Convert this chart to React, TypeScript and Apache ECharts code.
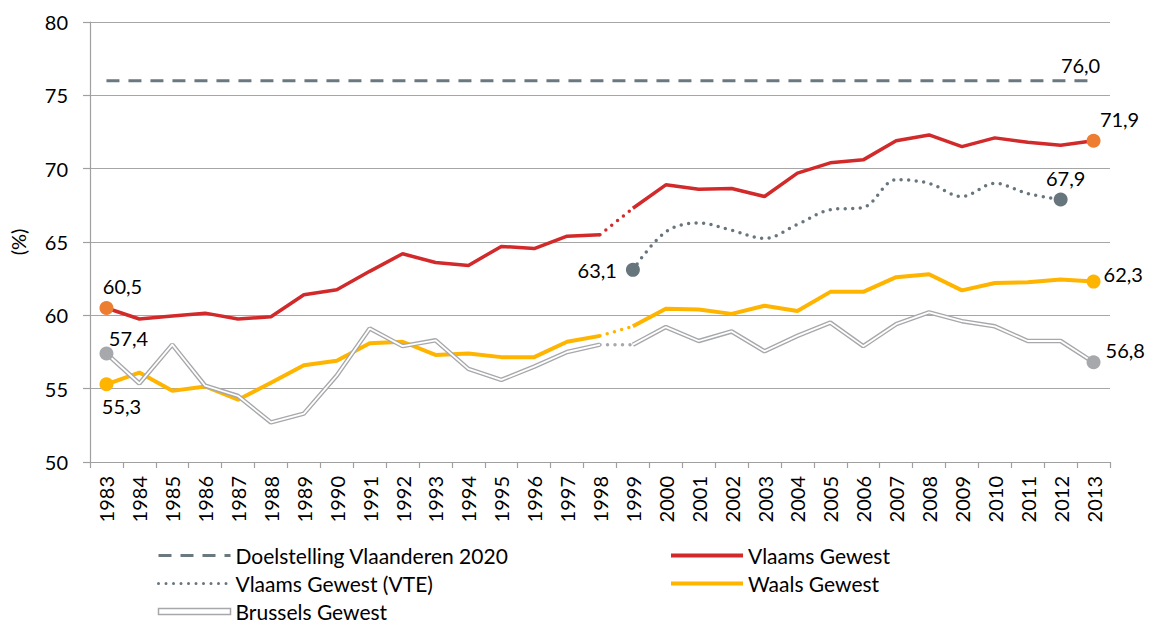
import React, { useEffect, useRef } from "react";
import * as echarts from "echarts";

const years = [
  1983, 1984, 1985, 1986, 1987, 1988, 1989, 1990, 1991, 1992, 1993, 1994, 1995, 1996, 1997, 1998,
  1999, 2000, 2001, 2002, 2003, 2004, 2005, 2006, 2007, 2008, 2009, 2010, 2011, 2012, 2013,
];
const target = years.map(() => 76.0);
const vlaams = [
  60.5, 59.75, 59.95, 60.15, 59.75, 59.9, 61.4, 61.75, 63.0, 64.2, 63.6, 63.4, 64.7, 64.55, 65.4, 65.5,
  67.3, 68.9, 68.6, 68.65, 68.1, 69.7, 70.4, 70.6, 71.9, 72.3, 71.5, 72.1, 71.8, 71.6, 71.9,
];
const vte = [
  null, null, null, null, null, null, null, null, null, null, null, null, null, null, null, null,
  63.1, 65.7, 66.3, 65.8, 65.25, 66.2, 67.2, 67.35, 69.25, 69.0, 68.1, 69.0, 68.3, 67.9, null,
];
const waals = [
  55.3, 56.1, 54.85, 55.15, 54.25, 55.4, 56.6, 56.9, 58.1, 58.2, 57.3, 57.4, 57.15, 57.15, 58.2, 58.6,
  59.25, 60.45, 60.4, 60.1, 60.65, 60.3, 61.6, 61.6, 62.6, 62.8, 61.7, 62.2, 62.25, 62.45, 62.3,
];
const brussels = [
  57.4, 55.35, 58.0, 55.2, 54.5, 52.7, 53.3, 55.9, 59.1, 57.9, 58.3, 56.35, 55.6, 56.5, 57.5, 58.0,
  58.0, 59.2, 58.25, 58.9, 57.55, 58.6, 59.5, 57.9, 59.4, 60.2, 59.6, 59.25, 58.25, 58.25, 56.8,
];

const LAST_OLD = 15; // index of 1998
const FONT = "Lato";

const C_TARGET = "#6A7880";
const C_RED = "#D22A2B";
const C_ORANGE = "#ED7D31";
const C_YELLOW = "#FFB400";
const C_VTE = "#67757D";
const C_BRU = "#A7A8AB";

const fmt = (v: number) => v.toFixed(1).replace(".", ",");

function segA(arr: (number | null)[]) {
  return arr.map((v, i) => (i <= LAST_OLD ? v : null));
}
function segB(arr: (number | null)[]) {
  return arr.map((v, i) => (i >= LAST_OLD + 1 ? v : null));
}
function segDot(arr: (number | null)[]) {
  return arr.map((v, i) => (i === LAST_OLD || i === LAST_OLD + 1 ? v : null));
}

function markItem(v: number, color: string, label: any, size = 14) {
  return {
    value: v,
    symbol: "circle",
    symbolSize: size,
    itemStyle: { color, opacity: 1 },
    label: {
      show: true,
      formatter: () => fmt(v),
      fontFamily: FONT,
      fontSize: 20,
      color: "#000",
      ...label,
    },
  };
}

function withMarks(arr: (number | null)[], marks: { idx: number; color: string; label: any }[]) {
  return arr.map((v, i) => {
    const m = marks.find((mm) => mm.idx === i);
    return m && v !== null ? markItem(v, m.color, m.label) : v;
  });
}

export default function App() {
  const ref = useRef<HTMLDivElement>(null);
  useEffect(() => {
    document.body.style.margin = "0";
    if (!ref.current) return;
    const chart = echarts.init(ref.current, undefined, { renderer: "svg" });

    const dots = (color: string) => ({
      color,
      width: 3.5,
      type: [0, 7.5],
      cap: "round",
    });

    const base = {
      type: "line",
      symbol: "none",
      showSymbol: true,
      connectNulls: false,
      silent: true,
    };

    const vA: any = withMarks(segA(vlaams), [
      { idx: 0, color: C_ORANGE, label: { position: "top", distance: 5, offset: [16, 0] } },
    ]);
    const vB: any = withMarks(segB(vlaams), [
      { idx: 30, color: C_ORANGE, label: { position: "top", distance: 5, offset: [26, 0] } },
    ]);
    const wA: any = withMarks(segA(waals), [
      { idx: 0, color: C_YELLOW, label: { position: "bottom", distance: 5, offset: [15, 0] } },
    ]);
    const wB: any = withMarks(segB(waals), [
      { idx: 30, color: C_YELLOW, label: { position: "right", distance: 3, offset: [0, -8] } },
    ]);
    const bA: any = withMarks(segA(brussels), [
      { idx: 0, color: C_BRU, label: { position: "top", distance: 5, offset: [22, 7] } },
    ]);
    const bB: any = withMarks(segB(brussels), [
      { idx: 30, color: C_BRU, label: { position: "right", distance: 5, offset: [0, -12] } },
    ]);
    const vteD: any = withMarks(vte, [
      { idx: 16, color: C_VTE, label: { position: "left", distance: 9 } },
      { idx: 29, color: C_VTE, label: { position: "top", distance: 4, offset: [5, 0] } },
    ]);

    const targetData: any = target.map((v, i) =>
      i === target.length - 1
        ? {
            value: v,
            symbol: "circle",
            symbolSize: 2,
            itemStyle: { color: "rgba(0,0,0,0)" },
            label: {
              show: true,
              formatter: () => fmt(v),
              position: "top",
              distance: 5,
              offset: [-13, 0],
              fontFamily: FONT,
              fontSize: 20,
              color: "#000",
            },
          }
        : v
    );

    const legendText = { fontFamily: FONT, fontSize: 21, color: "#000" };

    const option: any = {
      animation: false,
      grid: { left: 90, right: 45, top: 22, bottom: 164, containLabel: false },
      legend: [
        {
          orient: "vertical",
          left: 157,
          top: 545,
          height: 160,
          itemWidth: 72,
          itemHeight: 6,
          itemGap: 7,
          padding: 0,
          selectedMode: false,
          textStyle: legendText,
          data: [
            {
              name: "Doelstelling Vlaanderen 2020",
              itemStyle: { opacity: 0 },
              lineStyle: { color: C_TARGET, width: 3, type: [13, 9] },
            },
            {
              name: "Vlaams Gewest (VTE)",
              itemStyle: { opacity: 0 },
              lineStyle: { color: C_VTE, width: 3, type: [0, 7.5], cap: "round" },
            },
            {
              name: "Brussels Gewest",
              icon: "rect",
              itemStyle: { color: "#ffffff", borderColor: C_BRU, borderWidth: 1.5 },
            },
          ],
        },
        {
          orient: "vertical",
          left: 669,
          top: 545,
          height: 160,
          itemWidth: 72,
          itemHeight: 6,
          itemGap: 7,
          padding: 0,
          selectedMode: false,
          textStyle: legendText,
          data: [
            { name: "Vlaams Gewest", itemStyle: { opacity: 0 }, lineStyle: { color: C_RED, width: 4 } },
            { name: "Waals Gewest", itemStyle: { opacity: 0 }, lineStyle: { color: C_YELLOW, width: 4 } },
          ],
        },
      ],
      xAxis: {
        type: "category",
        data: years.map(String),
        boundaryGap: true,
        axisLine: { lineStyle: { color: "#A0A0A0", width: 1.2 } },
        axisTick: { show: true, length: 6, interval: 0, lineStyle: { color: "#A0A0A0", width: 1.2 } },
        axisLabel: { interval: 0, rotate: 90, margin: 14, fontFamily: FONT, fontSize: 20, color: "#000" },
      },
      yAxis: {
        type: "value",
        min: 50,
        max: 80,
        interval: 5,
        name: "(%)",
        nameLocation: "middle",
        nameRotate: 90,
        nameGap: 62,
        nameTextStyle: { fontFamily: FONT, fontSize: 20, color: "#000" },
        axisLine: { show: true, lineStyle: { color: "#A0A0A0", width: 1.2 } },
        axisTick: { show: true, length: 7, lineStyle: { color: "#A0A0A0", width: 1.2 } },
        splitLine: { lineStyle: { color: "#A6A6A6", width: 1.2 } },
        axisLabel: { margin: 22, fontFamily: FONT, fontSize: 20, color: "#000" },
      },
      series: [
        {
          ...base,
          name: "Doelstelling Vlaanderen 2020",
          data: targetData,
          lineStyle: { color: C_TARGET, width: 3, type: [13, 9] },
          itemStyle: { color: C_TARGET },
          z: 2,
        },
        {
          ...base,
          name: "Vlaams Gewest",
          data: vA,
          lineStyle: { color: C_RED, width: 3.5 },
          itemStyle: { color: C_RED },
          z: 3,
        },
        {
          ...base,
          name: "Vlaams Gewest",
          data: vB,
          lineStyle: { color: C_RED, width: 3.5 },
          itemStyle: { color: C_RED },
          z: 3,
        },
        {
          ...base,
          name: "Vlaams Gewest",
          data: segDot(vlaams),
          lineStyle: dots(C_RED),
          itemStyle: { color: C_RED },
          z: 3,
        },
        {
          ...base,
          name: "Vlaams Gewest (VTE)",
          data: vteD,
          smooth: 0.35,
          lineStyle: { color: C_VTE, width: 3.5, type: [0, 7.5], cap: "round" },
          itemStyle: { color: C_VTE },
          z: 3,
        },
        {
          ...base,
          name: "Waals Gewest",
          data: wA,
          lineStyle: { color: C_YELLOW, width: 4 },
          itemStyle: { color: C_YELLOW },
          z: 3,
        },
        {
          ...base,
          name: "Waals Gewest",
          data: wB,
          lineStyle: { color: C_YELLOW, width: 4 },
          itemStyle: { color: C_YELLOW },
          z: 3,
        },
        {
          ...base,
          name: "Waals Gewest",
          data: segDot(waals),
          lineStyle: dots(C_YELLOW),
          itemStyle: { color: C_YELLOW },
          z: 3,
        },
        {
          ...base,
          name: "Brussels Gewest",
          data: segA(brussels),
          lineStyle: { color: C_BRU, width: 4.5 },
          itemStyle: { color: C_BRU },
          z: 4,
        },
        {
          ...base,
          name: "Brussels Gewest",
          data: segB(brussels),
          lineStyle: { color: C_BRU, width: 4.5 },
          itemStyle: { color: C_BRU },
          z: 4,
        },
        {
          ...base,
          name: "_bru_inner_a",
          data: segA(brussels),
          lineStyle: { color: "#ffffff", width: 1.8 },
          z: 5,
        },
        {
          ...base,
          name: "_bru_inner_b",
          data: segB(brussels),
          lineStyle: { color: "#ffffff", width: 1.8 },
          z: 5,
        },
        {
          ...base,
          name: "_bru_marks",
          data: bA,
          lineStyle: { width: 0, opacity: 0 },
          z: 6,
        },
        {
          ...base,
          name: "_bru_marks2",
          data: bB,
          lineStyle: { width: 0, opacity: 0 },
          z: 6,
        },
        {
          ...base,
          name: "Brussels Gewest",
          data: segDot(brussels),
          lineStyle: dots(C_BRU),
          itemStyle: { color: C_BRU },
          z: 4,
        },
      ],
    };

    chart.setOption(option);
    return () => chart.dispose();
  }, []);

  return <div ref={ref} style={{ width: 1155, height: 626 }} />;
}
